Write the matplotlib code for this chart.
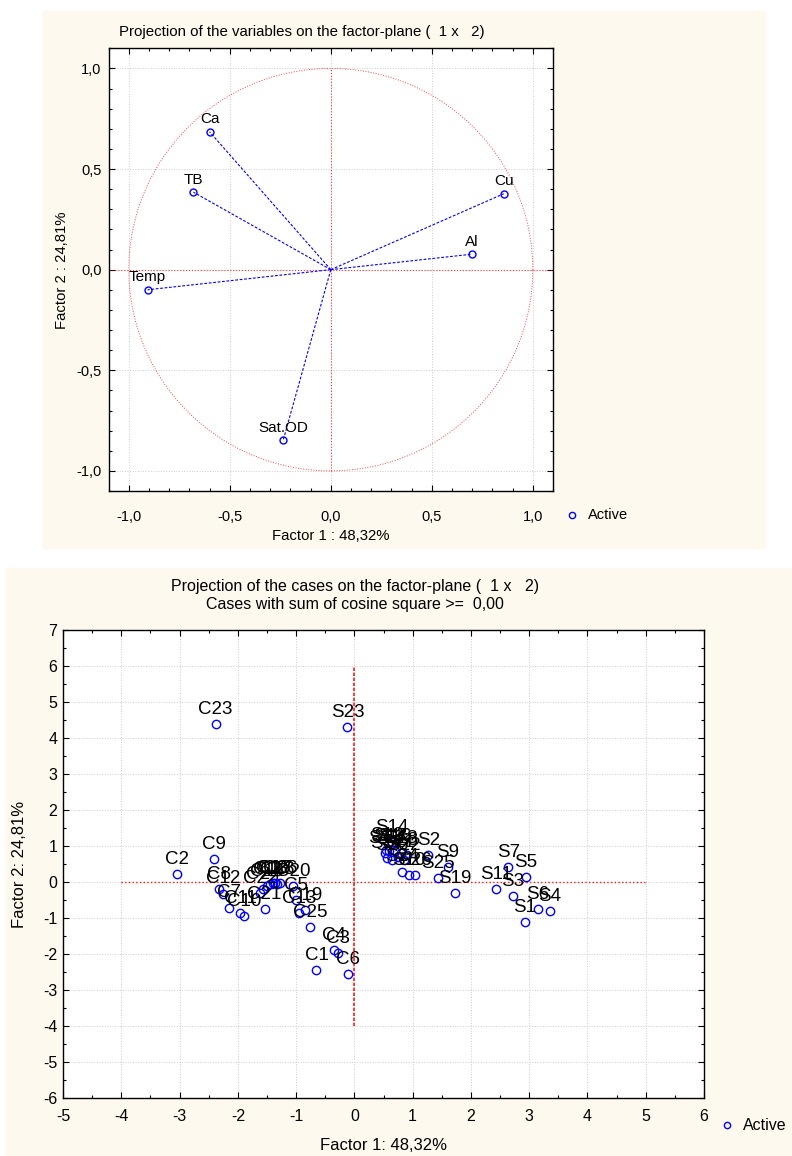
import numpy as np
import matplotlib
matplotlib.use('Agg')
import matplotlib.pyplot as plt
from matplotlib.lines import Line2D
from matplotlib.patches import Rectangle
from matplotlib.ticker import MultipleLocator, FuncFormatter

plt.rcParams['axes.unicode_minus'] = False

# variable loadings (factor 1, factor 2)
var_names = ['Ca', 'TB', 'Temp', 'Sat.OD', 'Cu', 'Al']
var_f1 = [-0.60, -0.68, -0.907, -0.236, 0.856, 0.70]
var_f2 = [0.685, 0.385, -0.10, -0.849, 0.377, 0.077]

# case scores (factor 1, factor 2)
case_names = ['C1', 'C2', 'C3', 'C4', 'C5', 'C6', 'C7', 'C8', 'C9', 'C10',
              'C11', 'C12', 'C13', 'C14', 'C15', 'C16', 'C17', 'C18', 'C19',
              'C20', 'C21', 'C22', 'C23', 'C24', 'C25', 'C26',
              'S1', 'S2', 'S3', 'S4', 'S5', 'S6', 'S7', 'S8', 'S9', 'S10',
              'S11', 'S12', 'S13', 'S14', 'S15', 'S16', 'S17', 'S18', 'S19',
              'S20', 'S21', 'S22', 'S23', 'S24', 'S25', 'S26']
case_f1 = [-0.65, -3.05, -0.28, -0.35, -1.00, -0.11, -2.15, -2.32, -2.41, -1.89,
           -1.96, -2.25, -0.95, -1.50, -1.45, -1.40, -1.36, -1.32, -0.85,
           -1.05, -1.54, -1.62, -2.38, -1.56, -0.76, -1.28,
           2.92, 1.27, 2.72, 3.35, 2.94, 3.15, 2.64, 0.90, 1.60, 0.94,
           2.43, 0.55, 0.60, 0.65, 0.52, 0.70, 0.56, 0.80, 1.73,
           0.64, 0.75, 0.85, -0.12, 0.81, 1.44, 1.04]
case_f2 = [-2.45, 0.22, -1.98, -1.89, -0.50, -2.56, -0.71, -0.20, 0.63, -0.94,
           -0.85, -0.32, -0.85, -0.12, -0.06, -0.04, -0.03, -0.05, -0.78,
           -0.11, -0.76, -0.31, 4.38, -0.20, -1.26, -0.04,
           -1.10, 0.75, -0.38, -0.80, 0.15, -0.75, 0.41, 0.75, 0.42, 0.20,
           -0.20, 0.90, 0.85, 1.12, 0.81, 0.85, 0.66, 0.80, -0.31,
           0.61, 0.70, 0.60, 4.30, 0.29, 0.12, 0.19]

W, H = 792, 1156
NARROW = ['Liberation Sans Narrow', 'Liberation Sans', 'DejaVu Sans']
REG = ['Liberation Sans', 'DejaVu Sans']
CREAM = '#fdf9ee'
BLUE = '#0000ff'


def fx(px):
    return px / W


def fy(py):
    return 1 - py / H


def comma_fmt(v, pos):
    if abs(v) < 1e-9:
        v = 0.0
    return f'{v:.1f}'.replace('.', ',')


def style_axes(ax, major, minor, size, xpad, ypad):
    ax.xaxis.set_major_locator(MultipleLocator(major))
    ax.yaxis.set_major_locator(MultipleLocator(major))
    ax.xaxis.set_minor_locator(MultipleLocator(minor))
    ax.yaxis.set_minor_locator(MultipleLocator(minor))
    ax.tick_params(which='both', direction='in', top=True, right=True,
                   labelsize=size, width=0.8)
    ax.tick_params(which='major', length=4)
    ax.tick_params(which='minor', length=2.5)
    ax.tick_params(axis='x', pad=xpad)
    ax.tick_params(axis='y', pad=ypad)
    ax.grid(True, which='major', color='#cccccc', linestyle=':', linewidth=0.7)
    ax.set_axisbelow(True)
    for s in ax.spines.values():
        s.set_linewidth(1.0)


fig = plt.figure(figsize=(W / 100, H / 100), dpi=100)
fig.patch.set_facecolor('white')

# cream panels behind both charts
fig.patches.append(Rectangle((fx(43), fy(548)), fx(765) - fx(43), fy(11) - fy(548),
                             transform=fig.transFigure, color=CREAM, zorder=-10))
fig.patches.append(Rectangle((fx(5), fy(1156)), fx(792) - fx(5), fy(568) - fy(1156),
                             transform=fig.transFigure, color=CREAM, zorder=-10))

# ---- top chart: variables ----
ax1 = fig.add_axes([fx(108.6), fy(491), fx(553) - fx(108.6), fy(48.3) - fy(491)])
ax1.set_xlim(-1.1, 1.1)
ax1.set_ylim(-1.1, 1.1)
t = np.linspace(0, 2 * np.pi, 400)
ax1.plot(np.cos(t), np.sin(t), color='red', ls=':', lw=0.7, alpha=0.75)
ax1.plot([0, 0], [-1, 1], color='red', ls=':', lw=0.8, alpha=0.75)
ax1.plot([-1.1, 1.1], [0, 0], color='red', ls=':', lw=0.8, alpha=0.75)
for name, x, y in zip(var_names, var_f1, var_f2):
    ax1.plot([0, x], [0, y], color=BLUE, ls=(0, (2.5, 1.5)), lw=0.8)
ax1.plot(var_f1, var_f2, 'o', mfc='none', mec=BLUE, ms=5, mew=1.0)
for name, x, y in zip(var_names, var_f1, var_f2):
    ax1.annotate(name, (x, y), xytext=(0, 9), textcoords='offset points',
                 ha='center', va='center', fontsize=11, family=REG)
style_axes(ax1, 0.5, 0.1, 10.5, 13.5, 5)
ax1.xaxis.set_major_formatter(FuncFormatter(comma_fmt))
ax1.yaxis.set_major_formatter(FuncFormatter(comma_fmt))
for lab in ax1.get_xticklabels() + ax1.get_yticklabels():
    lab.set_family(NARROW)

fig.text(fx(302), fy(32), 'Projection of the variables on the factor-plane (  1 x   2)',
         ha='center', va='center', fontsize=10.8, family=NARROW)
fig.text(fx(331), fy(536), 'Factor 1 : 48,32%', ha='center', va='center',
         fontsize=10.7, family=NARROW)
fig.text(fx(62), fy(270), 'Factor 2 : 24,81%', ha='center', va='center',
         rotation=90, fontsize=10.7, family=NARROW)

# ---- bottom chart: cases ----
ax2 = fig.add_axes([fx(63), fy(1098), fx(704) - fx(63), fy(630) - fy(1098)])
ax2.set_xlim(-5, 6)
ax2.set_ylim(-6, 7)
ax2.plot([0, 0], [-4, 6], color='red', ls=(0, (2, 1)), lw=1.2, alpha=0.9)
ax2.plot([-4, 5], [0, 0], color='red', ls=':', lw=1.0, alpha=0.9)
ax2.plot(case_f1, case_f2, 'o', mfc='none', mec=BLUE, ms=6, mew=1.0)
for name, x, y in zip(case_names, case_f1, case_f2):
    ax2.annotate(name, (x, y), xytext=(0, 10.5), textcoords='offset points',
                 ha='center', va='center', fontsize=13.5, family=REG)
style_axes(ax2, 1, 0.5, 11.5, 8, 4)
for lab in ax2.get_xticklabels() + ax2.get_yticklabels():
    lab.set_family(NARROW)

fig.text(fx(355), fy(587), 'Projection of the cases on the factor-plane (  1 x   2)',
         ha='center', va='center', fontsize=11.5, family=NARROW)
fig.text(fx(355), fy(605), 'Cases with sum of cosine square >=  0,00',
         ha='center', va='center', fontsize=11.5, family=NARROW)
fig.text(fx(384), fy(1145), 'Factor 1: 48,32%', ha='center', va='center',
         fontsize=12, family=NARROW)
fig.text(fx(20), fy(864), 'Factor 2: 24,81%', ha='center', va='center',
         rotation=90, fontsize=12, family=NARROW)

# legends
for (mx, my, fs) in [(572, 515, 10.5), (727, 1125, 11.5)]:
    fig.lines.append(Line2D([fx(mx)], [fy(my)], transform=fig.transFigure,
                            marker='o', ls='none', mfc='none', mec=BLUE,
                            ms=4.5, mew=1.0))
    fig.text(fx(mx + 16), fy(my), 'Active', ha='left', va='center',
             fontsize=fs, family=NARROW)

fig.savefig('out.png', dpi=100)
